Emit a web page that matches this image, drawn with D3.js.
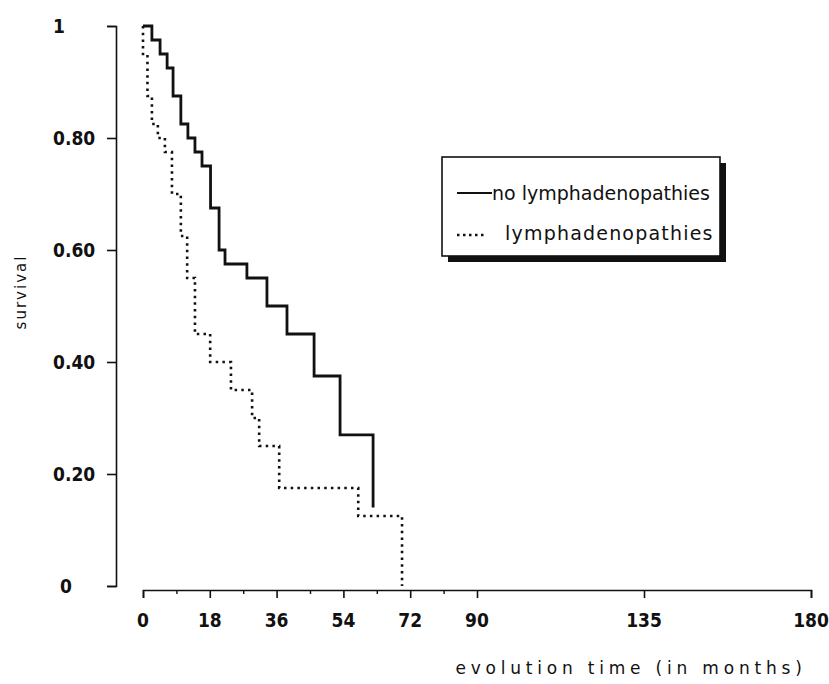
<!DOCTYPE html>
<html>
<head>
<meta charset="utf-8">
<script src="https://cdn.jsdelivr.net/npm/d3@7/dist/d3.min.js"></script>
<style>
  html, body { margin: 0; padding: 0; background: #fff; }
  svg { display: block; }
  .tick-label { font-family: "DejaVu Sans Condensed", "Liberation Sans Narrow", "Liberation Sans", sans-serif; font-weight: bold; font-size: 19px; fill: #111; }
  .title { font-family: "DejaVu Sans", "Open Sans", sans-serif; fill: #111; }
</style>
</head>
<body>
<svg id="chart" width="829" height="684"></svg>
<script>
// ---- data ----
const solidTimes  = [0, 2.4, 4.6, 6.5, 8.1, 10.2, 12.1, 14.0, 15.9, 18.2, 20.5, 22.1, 28.0, 33.4, 38.8, 46.1, 53.1, 62.0];
const solidSurv   = [1, 0.975, 0.95, 0.925, 0.875, 0.825, 0.80, 0.775, 0.75, 0.675, 0.60, 0.575, 0.55, 0.50, 0.45, 0.375, 0.27, 0.14];
const dottedTimes = [0, 0, 1.2, 2.4, 4.0, 5.9, 7.8, 10.2, 11.9, 14.0, 18.1, 23.7, 29.4, 31.3, 36.7, 58.0, 69.8];
const dottedSurv  = [1, 0.95, 0.875, 0.825, 0.80, 0.775, 0.70, 0.625, 0.55, 0.45, 0.40, 0.35, 0.30, 0.25, 0.175, 0.125, 0];
const xMajorTicks = [0, 18, 36, 54, 72, 90, 135, 180];
const xTickLabels = ["0", "18", "36", "54", "72", "90", "135", "180"];
const xMinorTicks = [9, 27, 45, 63, 81];
const yTicks      = [0, 0.2, 0.4, 0.6, 0.8, 1];
const yTickLabels = ["0", "0.20", "0.40", "0.60", "0.80", "1"];
const seriesNames = ["no lymphadenopathies", "lymphadenopathies"];

// ---- layout ----
const svg = d3.select("#chart");
const x = d3.scaleLinear().domain([0, 180]).range([143, 811]);
const y = d3.scaleLinear().domain([0, 1]).range([586, 26]);
const yAxisX = 116;
const xAxisY = 590;

// y axis
const yAxis = d3.axisLeft(y).tickValues(yTicks).tickSize(9).tickSizeOuter(9).tickFormat("");
const gy = svg.append("g").attr("transform", `translate(${yAxisX},0)`).call(yAxis);
gy.selectAll("path, line").attr("stroke", "#111").attr("stroke-width", 1.6);
svg.append("g").selectAll("text").data(yTicks).join("text")
  .attr("class", "tick-label")
  .attr("x", d => d === 0 ? 60 : 53).attr("y", d => y(d)).attr("dy", "0.36em")
  .text((d, i) => yTickLabels[i]);

// x axis
const xAxis = d3.axisBottom(x).tickValues(xMajorTicks).tickSize(8).tickSizeOuter(8).tickFormat("");
const gx = svg.append("g").attr("transform", `translate(0,${xAxisY})`).call(xAxis);
gx.selectAll("path, line").attr("stroke", "#111").attr("stroke-width", 1.6);
const xMinor = d3.axisBottom(x).tickValues(xMinorTicks).tickSize(4).tickSizeOuter(0).tickFormat("");
const gxm = svg.append("g").attr("transform", `translate(0,${xAxisY})`).call(xMinor);
gxm.select("path").remove();
gxm.selectAll("line").attr("stroke", "#111").attr("stroke-width", 1.4);
svg.append("g").selectAll("text").data(xMajorTicks).join("text")
  .attr("class", "tick-label")
  .attr("x", d => x(d)).attr("y", 627)
  .attr("text-anchor", "middle")
  .text((d, i) => xTickLabels[i]);

// axis titles
svg.append("text").attr("class", "title")
  .attr("transform", "translate(26,292) rotate(-90)")
  .attr("text-anchor", "middle")
  .style("font-size", "15px").style("letter-spacing", "2px")
  .text("survival");
svg.append("text").attr("class", "title")
  .attr("x", 631).attr("y", 674)
  .attr("text-anchor", "middle")
  .style("font-size", "17px").style("letter-spacing", "4.8px")
  .text("evolution time (in months)");

// curves
const line = d3.line().x(d => x(d[0])).y(d => y(d[1])).curve(d3.curveStepAfter);
const solidData = solidTimes.map((t, i) => [t, solidSurv[i]]);
const dottedData = dottedTimes.map((t, i) => [t, dottedSurv[i]]);
svg.append("path").datum(solidData).attr("d", line)
  .attr("fill", "none").attr("stroke", "#111").attr("stroke-width", 2.8)
  .attr("stroke-linejoin", "miter");
svg.append("path").datum(dottedData).attr("d", line)
  .attr("fill", "none").attr("stroke", "#111").attr("stroke-width", 2.6)
  .attr("stroke-dasharray", "2.5 4.2");

// legend
const lg = svg.append("g");
const lx = 442, ly = 157, lw = 278, lh = 99;
lg.append("rect").attr("x", lx + 6).attr("y", ly + 6).attr("width", lw).attr("height", lh).attr("fill", "#111");
lg.append("rect").attr("x", lx).attr("y", ly).attr("width", lw).attr("height", lh)
  .attr("fill", "#fff").attr("stroke", "#111").attr("stroke-width", 1.6);
const items = lg.selectAll("g.item").data(seriesNames).join("g").attr("class", "item");
items.append("line")
  .attr("x1", 457).attr("x2", (d, i) => i === 0 ? 492 : 487)
  .attr("y1", (d, i) => i === 0 ? 193 : 235).attr("y2", (d, i) => i === 0 ? 193 : 235)
  .attr("stroke", "#111").attr("stroke-width", (d, i) => i === 0 ? 2 : 2.5)
  .attr("stroke-dasharray", (d, i) => i === 0 ? null : "2.5 3.5");
items.append("text").attr("class", "title")
  .attr("x", (d, i) => i === 0 ? 492 : 505)
  .attr("y", (d, i) => i === 0 ? 193 : 233)
  .attr("dy", "0.35em")
  .style("font-size", "19px")
  .style("letter-spacing", (d, i) => i === 0 ? "0px" : "1.2px")
  .text(d => d);
</script>
</body>
</html>
